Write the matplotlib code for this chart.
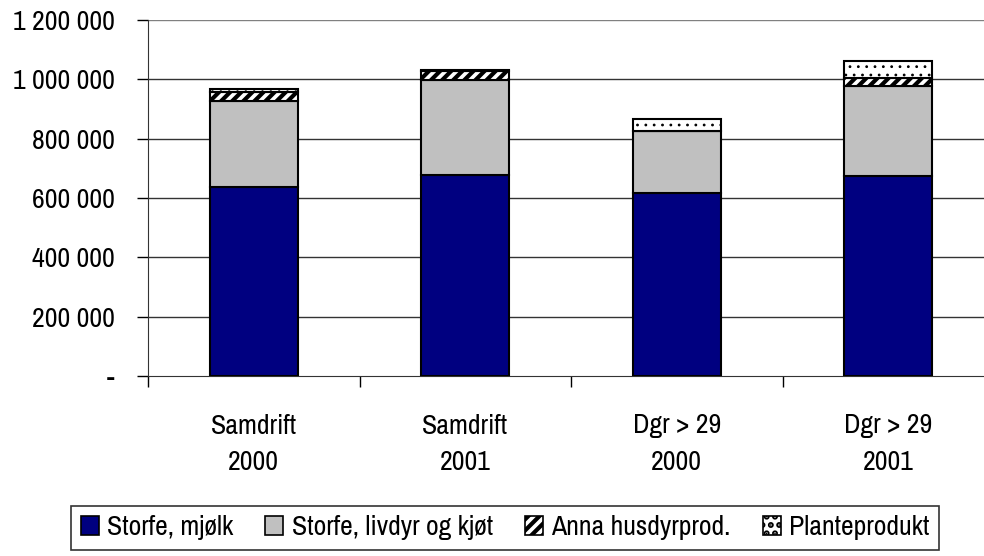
import numpy as np
import matplotlib.pyplot as plt
from matplotlib.patches import Patch

categories = ['Samdrift\n2000', 'Samdrift\n2001', 'Dgr > 29\n2000', 'Dgr > 29\n2001']
storfe_mjolk = [637000, 677000, 617000, 674000]
storfe_livdyr = [290000, 321000, 209000, 303000]
anna_husdyr = [30000, 30000, 0, 27000]
planteprodukt = [10000, 3000, 40000, 58000]
yticks = [0, 200000, 400000, 600000, 800000, 1000000, 1200000]
yticklabels = ['-', '200 000', '400 000', '600 000', '800 000', '1 000 000', '1 200 000']

plt.rcParams['font.family'] = ['Archivo Narrow', 'DejaVu Sans']
plt.rcParams['hatch.linewidth'] = 3.0
fs = 20

fig = plt.figure(figsize=(9.84, 5.56), dpi=100)
ax = fig.add_axes([148/984, 180/556, 846/984, 356/556])

x = np.arange(len(categories))
w = 0.416
bottom = np.zeros(len(x))
series = [
    (storfe_mjolk, dict(color='#000080'), 'Storfe, mjølk', None),
    (storfe_livdyr, dict(color='#c0c0c0'), 'Storfe, livdyr og kjøt', None),
    (anna_husdyr, dict(color='white', hatch='///'), 'Anna husdyrprod.', 3.0),
    (planteprodukt, dict(color='white', hatch='..'), 'Planteprodukt', 0.8),
]
handles = []
for vals, style, label, hlw in series:
    vals = np.array(vals)
    bars = ax.bar(x, vals, w, bottom=bottom, edgecolor='black', linewidth=1.5, zorder=3, **style)
    if hlw is not None:
        for b in bars:
            if hasattr(b, 'set_hatch_linewidth'):
                b.set_hatch_linewidth(hlw)
    bottom += vals
    h = Patch(facecolor=style['color'], hatch=style.get('hatch'),
              edgecolor='black', linewidth=1.2, label=label)
    if hlw is not None and hasattr(h, 'set_hatch_linewidth'):
        h.set_hatch_linewidth(hlw)
    handles.append(h)

ax.set_ylim(0, 1200000)
ax.set_xlim(-0.5, 3.5)
ax.set_yticks(yticks)
ax.set_yticklabels(yticklabels, fontsize=fs)
for y in yticks[1:]:
    ax.axhline(y, color='#808080' if y == 1200000 else '#333333', linewidth=1, zorder=1)

ax.set_xticks(x)
ax.set_xticklabels(categories, fontsize=fs, linespacing=1.6)
ax.set_xticks([-0.5, 0.5, 1.5, 2.5], minor=True)
ax.tick_params(axis='x', which='major', length=0, pad=27)
ax.tick_params(axis='x', which='minor', length=8, width=1)
ax.tick_params(axis='y', length=8, width=1, pad=16)

for s in ['top', 'right']:
    ax.spines[s].set_visible(False)
ax.spines['left'].set_color('#333333')
ax.spines['bottom'].set_color('#333333')

leg = fig.legend(handles=handles, loc='center', bbox_to_anchor=(505/984, 1 - 528/556),
                 ncol=4, fontsize=fs, frameon=True, fancybox=False,
                 handlelength=0.65, handleheight=0.65, handletextpad=0.3,
                 columnspacing=1.15, borderpad=0.35)
leg.get_frame().set_edgecolor('black')
leg.get_frame().set_linewidth(1.2)

fig.savefig('out.png', dpi=100)
